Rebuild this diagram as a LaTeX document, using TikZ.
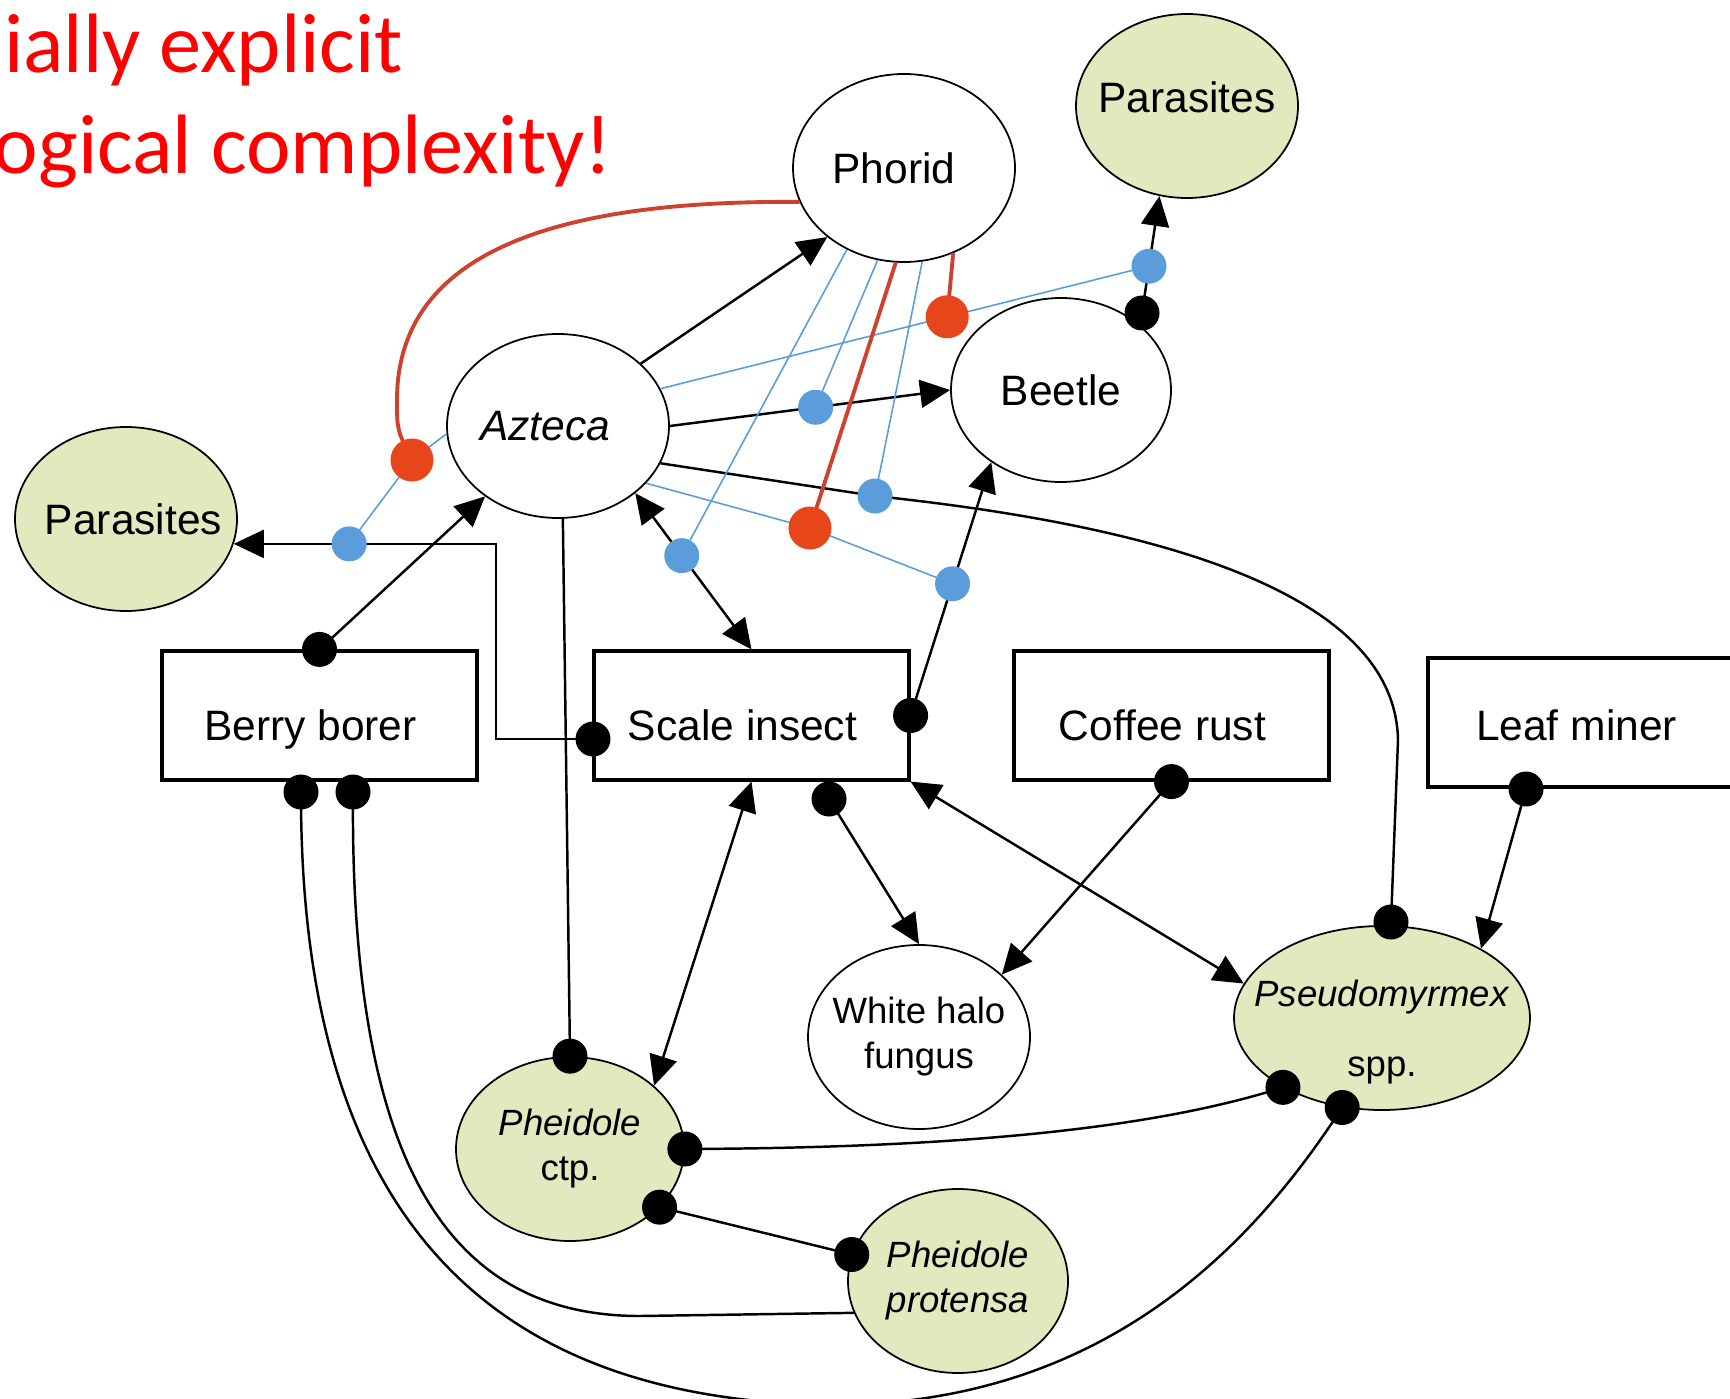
\documentclass[tikz,border=0pt]{standalone}
\usepackage{fontspec}
\newfontfamily\titlefont{Carlito}
\newfontfamily\labfont{Liberation Sans}
\usetikzlibrary{arrows.meta,shapes.geometric}
\definecolor{leaf}{RGB}{228,232,190}
\definecolor{modblue}{RGB}{91,157,218}
\definecolor{moddot}{RGB}{230,70,25}
\definecolor{modred}{RGB}{205,65,45}
\definecolor{ttl}{RGB}{255,0,0}
\tikzset{
  sp/.style={ellipse,draw,line width=0.5pt,inner ysep=0pt,inner xsep=-2.5mm,minimum width=22.2mm,minimum height=18.4mm,font=\labfont\fontsize{12.1}{14}\selectfont},
  shaded/.style={sp,fill=leaf},
  small/.style={font=\labfont\fontsize{10.4}{12.8}\selectfont,align=center},
  pest/.style={rectangle,draw,line width=0.9pt,minimum width=31.5mm,minimum height=12.9mm,text height=5mm,text depth=0pt,font=\labfont\fontsize{12.1}{14}\selectfont,execute at end node={\hspace*{1.8mm}}},
  bdot/.style={circle,fill=black,inner sep=0pt,minimum size=3.5mm},
  udot/.style={circle,fill=modblue,inner sep=0pt,minimum size=3.5mm},
  rdot/.style={circle,fill=moddot,inner sep=0pt,minimum size=4.3mm},
  link/.style={line width=0.7pt},
  arr/.style={link,-{Triangle[length=3mm,width=2.8mm]}},
  darr/.style={link,{Triangle[length=3mm,width=2.8mm]}-{Triangle[length=3mm,width=2.8mm]}},
  uline/.style={modblue,line width=0.45pt},
  rline/.style={modred,line width=1.1pt}
}
\begin{document}
\begin{tikzpicture}[x=0.1mm,y=-0.1mm]
\useasboundingbox (0,0) rectangle (1730,1399);
\clip (0,0) rectangle (1730,1399);

\node[anchor=base east,inner sep=0pt,text=ttl,font=\titlefont\fontsize{24}{28}\selectfont] (ttl1) at (404,73) {ially explicit};
\node[anchor=base east,inner sep=0pt,text=ttl,font=\titlefont\fontsize{24}{28}\selectfont] (ttl2) at (613,174) {ogical complexity!};

\node[sp,minimum height=18.8mm] (phorid) at (904,168) {Phorid\hspace*{2mm}};
\node[shaded,text depth=1.8mm] (parTR) at (1187,106) {Parasites};
\node[sp] (azteca) at (558,426) {\itshape Azteca\hspace*{2.6mm}};
\node[sp,minimum width=22mm] (beetle) at (1061,390) {Beetle};
\node[shaded] (parL) at (126,519) {\hspace*{1.5mm}Parasites};
\node[pest] (bb) at (319.5,715.5) {Berry borer};
\node[pest] (scale) at (751.5,715.5) {Scale insect};
\node[pest] (coffee) at (1171.5,715.5) {Coffee rust};
\node[pest,text height=3.6mm] (leaf) at (1585.5,722.5) {Leaf miner};
\node[sp,small] (whalo) at (919,1037) {White halo\\fungus};
\node[shaded,small,minimum width=29.6mm,font=\labfont\fontsize{10.4}{20}\selectfont] (pseudo) at (1382,1018)
  {\raisebox{-1.4mm}[\height][\depth]{\textit{Pseudomyrmex}}\\\raisebox{-1.4mm}[\height][\depth]{spp.}};
\node[shaded,small,minimum width=22.8mm] (ctp) at (570,1149) {\textit{Pheidole}\\ctp.};
\node[shaded,small,minimum width=22mm] (protensa) at (958,1281) {\textit{Pheidole}\\\textit{protensa}};

\coordinate (bbT) at (bb.north);
\coordinate (bbB1) at (301,792);
\coordinate (bbB2) at (353,792);
\coordinate (scL) at (593,739);
\coordinate (scR) at (scale.east);
\coordinate (scB) at (829,799);
\coordinate (crB) at (coffee.south);
\coordinate (lmB) at (1526,789);
\coordinate (psT) at (1391,922);
\coordinate (psL1) at (pseudo.-145);
\coordinate (psL2) at (pseudo.-114);
\coordinate (ctT) at (ctp.north);
\coordinate (ctR) at (ctp.east);
\coordinate (ctLR) at (ctp.-33);
\coordinate (prL) at (protensa.166);
\coordinate (btD) at (1142,313);
\coordinate (mAP) at (875,496);
\coordinate (rA) at (412,460);
\coordinate (rB) at (810,528);

\draw[arr] (bbT) -- (azteca.-136);
\draw[arr] (scL) -- ++(-97,0) |- coordinate[pos=.78] (mSP) (parL.-13);
\draw[link] (azteca.-87) -- (ctT);
\draw[darr] (azteca.-41) -- coordinate[pos=.4] (mAS) (scale.north);
\draw[arr] (azteca.37) -- (phorid.-138);
\draw[arr] (azteca.0) -- coordinate[pos=.52] (mAB) (beetle.180);
\draw[link] (azteca.-20) -- (mAP) .. controls (1150,525) and (1395,590) .. (1398,740) -- (psT);
\draw[arr] (btD) -- coordinate[pos=.4] (mBP) (parTR.-107);
\draw[arr] (scR) -- coordinate[pos=.52] (mSB) (beetle.-134);
\draw[darr] (scale.south) -- (ctp.37);
\draw[arr] (scB) -- (whalo.north);
\draw[darr] (scale.south east) -- (pseudo.166);
\draw[arr] (crB) -- (whalo.37);
\draw[arr] (lmB) -- (pseudo.35);
\draw[link] (ctR) .. controls (950,1148) and (1150,1130) .. (psL1);
\draw[link] (ctLR) -- (prL);
\draw[link] (bbB2) .. controls (350,1150) and (440,1316) .. (640,1316) -- (protensa.-163);
\draw[link] (bbB1) .. controls (300,1250) and (520,1400) .. (830,1405) .. controls (1100,1405) and (1250,1250) .. (psL2);

\draw[uline] (azteca.-176) -- (rA) -- (mSP);
\draw[uline] (azteca.-33) -- (rB) -- (mSB);
\draw[uline] (azteca.20) -- coordinate[pos=.587] (rC) (mBP);
\draw[uline] (phorid.-125) -- (mAS);
\draw[uline] (phorid.-106) -- (mAB);
\draw[uline] (phorid.-79) -- (mAP);
\draw[rline] (phorid.-95) -- (rB);
\draw[rline] (phorid.-60) -- (rC);
\draw[rline] (phorid.-162) .. controls (560,200) and (397,250) .. (397,400) .. controls (397,430) .. (rA);

\foreach \d in {bbT,bbB1,bbB2,scL,scR,scB,crB,lmB,psT,psL1,psL2,ctT,ctR,ctLR,prL,btD}
  \node[bdot] (\d-dot) at (\d) {};
\foreach \d in {mAS,mAB,mAP,mSB,mBP,mSP}
  \node[udot] (\d-dot) at (\d) {};
\foreach \d in {rA,rB,rC}
  \node[rdot] (\d-dot) at (\d) {};
\end{tikzpicture}
\end{document}
